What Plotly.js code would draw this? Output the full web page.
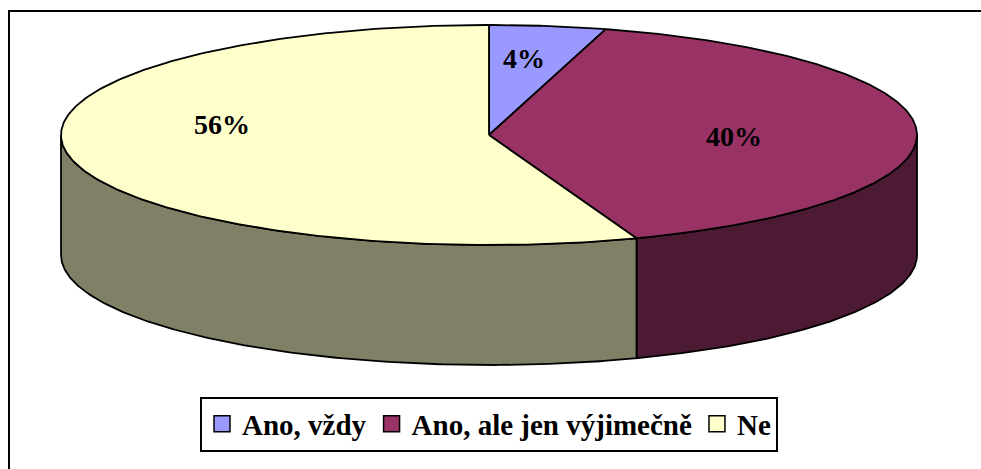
<!DOCTYPE html>
<html>
<head>
<meta charset="utf-8">
<script src="https://cdn.plot.ly/plotly-3.0.1.min.js"></script>
<style>html,body{margin:0;padding:0;background:#fff;}#chart{width:981px;height:469px;}</style>
</head>
<body>
<div id="chart"></div>
<script>
// ---- data ----
var categories = ["Ano, vždy", "Ano, ale jen výjimečně", "Ne"];
var values = [4.4, 40.0, 55.6];
var topColors = ["#9999FF", "#993366", "#FFFFCC"];
var sideColors = ["#4D4D80", "#4D1A33", "#808066"];

// ---- geometry (layout, pixels) ----
var W = 981, H = 469;
var CX = 489, CY = 135, RX = 428, RY = 110, DEPTH = 120;
var LABEL_XY = [[524, 58], [734, 136], [222, 124]];
var FONT = "Liberation Serif";

function px(t) { return CX + RX * Math.sin(t); }
function py(t) { return CY - RY * Math.cos(t); }
function arc(a, b, dy) {
  var xs = [], ys = [], n = Math.max(4, Math.ceil(Math.abs(b - a) / 0.01));
  for (var i = 0; i <= n; i++) {
    var t = a + (b - a) * i / n;
    xs.push(px(t)); ys.push(py(t) + dy);
  }
  return [xs, ys];
}

var total = values.reduce(function (s, v) { return s + v; }, 0);
var bounds = [0], acc = 0;
values.forEach(function (v) { acc += v; bounds.push(acc / total * 2 * Math.PI); });

var traces = [];
var lineStyle = { color: "#000", width: 1.8 };

// side walls (front half only: angles PI/2 .. 3PI/2)
for (var i = 0; i < values.length; i++) {
  var a = Math.max(bounds[i], Math.PI / 2), b = Math.min(bounds[i + 1], 3 * Math.PI / 2);
  if (b <= a) continue;
  var upperArc = arc(a, b, 0), lowerArc = arc(b, a, DEPTH);
  traces.push({
    type: "scatter", mode: "lines", x: upperArc[0].concat(lowerArc[0], [upperArc[0][0]]),
    y: upperArc[1].concat(lowerArc[1], [upperArc[1][0]]), fill: "toself", fillcolor: sideColors[i],
    line: lineStyle, hoverinfo: "skip", showlegend: false
  });
}
// top faces
for (var j = 0; j < values.length; j++) {
  var ar = arc(bounds[j], bounds[j + 1], 0);
  traces.push({
    type: "scatter", mode: "lines", x: [CX].concat(ar[0], [CX]), y: [CY].concat(ar[1], [CY]),
    fill: "toself", fillcolor: topColors[j], line: lineStyle, hoverinfo: "skip", showlegend: false
  });
}
// legend entries
for (var k = 0; k < categories.length; k++) {
  traces.push({
    type: "scatter", mode: "markers", x: [null], y: [null], name: "<b>" + categories[k] + "</b>",
    marker: { symbol: "square", size: 18, color: topColors[k], line: { color: "#000", width: 1.5 } },
    hoverinfo: "skip", showlegend: true
  });
}

var annotations = values.map(function (v, i) {
  return {
    x: LABEL_XY[i][0], y: LABEL_XY[i][1], xref: "x", yref: "y", showarrow: false,
    text: "<b>" + Math.round(v / total * 100) + "%</b>",
    font: { family: FONT, size: 28, color: "#000" }
  };
});

var layout = {
  width: W, height: H, margin: { l: 0, r: 0, t: 0, b: 0 },
  paper_bgcolor: "#fff", plot_bgcolor: "#fff",
  font: { family: FONT },
  xaxis: { range: [0, W], visible: false, fixedrange: true },
  yaxis: { range: [H, 0], visible: false, fixedrange: true },
  showlegend: true,
  legend: {
    orientation: "h", x: 489 / W, xanchor: "center", y: (H - 424) / H, yanchor: "middle",
    bgcolor: "#fff", bordercolor: "#000", borderwidth: 2,
    font: { family: FONT, size: 29, color: "#000" },
    itemclick: false, itemdoubleclick: false, tracegroupgap: 0
  },
  shapes: [{
    type: "rect", xref: "x", yref: "y", x0: 9, y0: 11, x1: W + 10, y1: H + 10,
    line: { color: "#000", width: 2 }, fillcolor: "rgba(0,0,0,0)", layer: "below"
  }],
  annotations: annotations,
  hovermode: false
};

Plotly.newPlot("chart", traces, layout, { displayModeBar: false, staticPlot: true });
</script>
</body>
</html>
